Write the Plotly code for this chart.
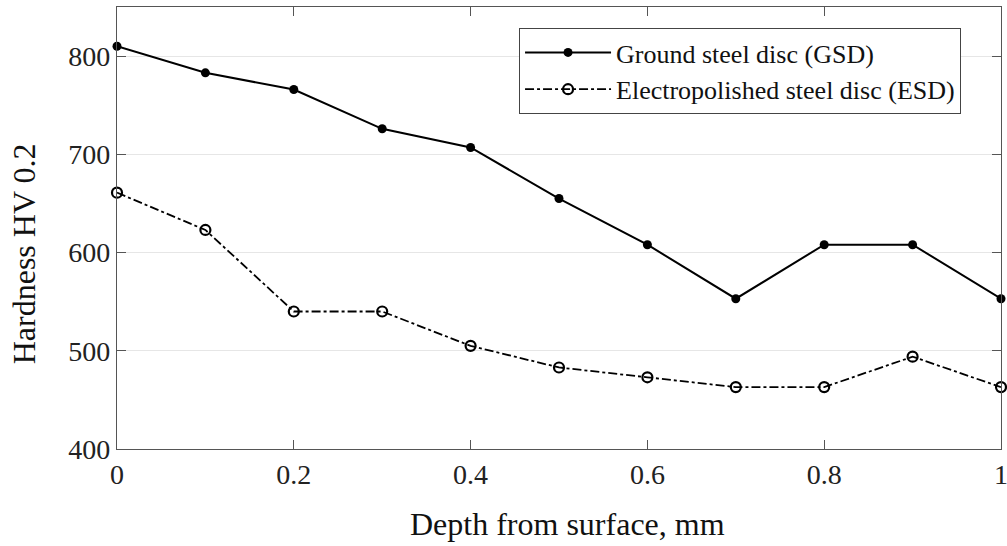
import plotly.graph_objects as go

depth = [0, 0.1, 0.2, 0.3, 0.4, 0.5, 0.6, 0.7, 0.8, 0.9, 1.0]
gsd = [810, 783, 766, 726, 707, 655, 608, 553, 608, 608, 553]
esd = [661, 623, 540, 540, 505, 483, 473, 463, 463, 494, 463]

x_ticks = [0, 0.2, 0.4, 0.6, 0.8, 1]
x_labels = ['0', '0.2', '0.4', '0.6', '0.8', '1']
y_ticks = [400, 500, 600, 700, 800]

serif = 'Liberation Serif, Times New Roman, serif'

fig = go.Figure()

fig.add_trace(go.Scatter(x=depth, y=gsd, name='Ground steel disc (GSD)', mode='lines+markers',
                         line=dict(color='black', width=2),
                         marker=dict(symbol='circle', size=9, color='black'),
                         cliponaxis=False))

fig.add_trace(go.Scatter(x=depth, y=esd, name='Electropolished steel disc (ESD)', mode='lines+markers',
                         line=dict(color='black', width=1.8, dash='dashdot'),
                         marker=dict(symbol='circle-open', size=10, color='black',
                                     line=dict(width=2.2, color='black')),
                         cliponaxis=False))

fig.update_layout(
    width=1007, height=546,
    margin=dict(l=117, r=6, t=7, b=97, autoexpand=False),
    paper_bgcolor='white', plot_bgcolor='white',
    font=dict(family=serif, size=27, color='#222'),
    showlegend=True,
    legend=dict(x=0.4548, y=0.9525, xanchor='left', yanchor='top',
                bgcolor='white', bordercolor='#444', borderwidth=1,
                font=dict(family=serif, size=26, color='#111'),
                tracegroupgap=0, itemwidth=86),
    annotations=[
        dict(text='Depth from surface, mm', xref='paper', yref='paper', x=0.510, y=-0.170,
             xanchor='center', yanchor='middle', showarrow=False,
             font=dict(family=serif, size=32, color='#111')),
        dict(text='Hardness HV 0.2', xref='paper', yref='paper', x=-0.105, y=0.441,
             xanchor='center', yanchor='middle', showarrow=False, textangle=-90,
             font=dict(family=serif, size=32, color='#111')),
    ],
)

fig.update_xaxes(range=[0, 1], tickvals=x_ticks, ticktext=x_labels, automargin=False,
                 ticks='inside', ticklen=9, tickcolor='#555', showgrid=False, zeroline=False,
                 showline=True, linecolor='#555', linewidth=1.3, mirror='ticks',
                 ticklabeloverflow='allow', tickfont=dict(size=28))

fig.update_yaxes(range=[400, 850], tickvals=y_ticks, automargin=False,
                 ticks='inside', ticklen=9, tickcolor='#555', showgrid=True, gridcolor='#e6e6e6', gridwidth=1,
                 zeroline=False, showline=True, linecolor='#555', linewidth=1.3, mirror='ticks',
                 tickfont=dict(size=28))

# drop the default body margin so the figure sits at the window origin
fig.write_html("out.html", config={'displayModeBar': False},
               post_script="document.body.style.margin='0';")
